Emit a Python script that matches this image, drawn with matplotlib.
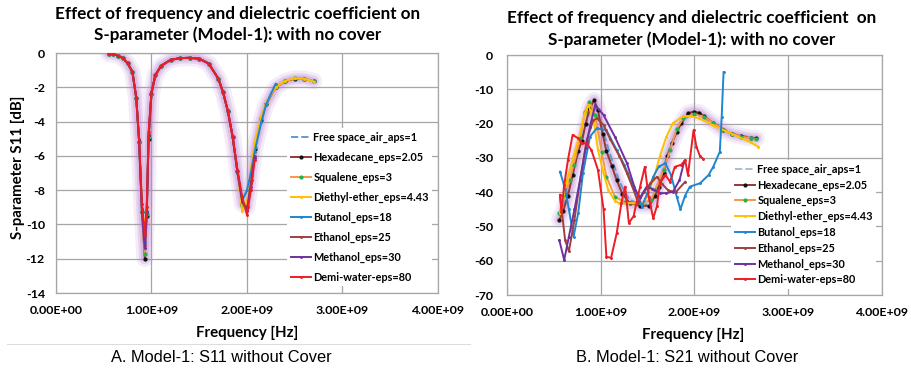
import matplotlib
matplotlib.use("Agg")
import matplotlib.pyplot as plt
from matplotlib.lines import Line2D
import numpy as np

# ---- S11 (left panel), frequency in GHz, value in dB ----
S11_FREQ = [0.55, 0.6, 0.65, 0.7, 0.75, 0.8, 0.84, 0.87, 0.9, 0.93, 0.95, 0.97,
            1.0, 1.04, 1.1, 1.2, 1.3, 1.4, 1.5, 1.6, 1.7, 1.75, 1.8, 1.85, 1.9,
            1.95, 2.0, 2.04, 2.08, 2.15, 2.2, 2.3, 2.4, 2.5, 2.6, 2.7]
S11_FREE = [-0.05, -0.07, -0.15, -0.3, -0.6, -1.1, -2.6, -5.1, -9.2, -11.3, -9.2, -4.8,
            -2.3, -1.3, -0.75, -0.4, -0.3, -0.28, -0.33, -0.62, -1.5, -2.3, -3.4, -4.9, -7.0,
            -8.6, -8.0, -7.0, -5.76, -4.0, -3.0, -1.8]
S11_HEX = [-0.05, -0.07, -0.15, -0.3, -0.6, -1.1, -2.6, -5.2, -9.3, -12.0, -9.5, -5.0,
           -2.4, -1.3, -0.75, -0.4, -0.3, -0.28, -0.33, -0.62, -1.5, -2.3, -3.4, -4.9, -6.9,
           -8.8, -9.0, -7.4, -5.6, -3.9, -3.0, -2.0, -1.65, -1.5, -1.5, -1.65]
S11_SQU = [-0.05, -0.07, -0.15, -0.3, -0.6, -1.1, -2.6, -5.2, -9.2, -11.7, -9.4, -4.9,
           -2.4, -1.3, -0.75, -0.4, -0.3, -0.28, -0.33, -0.62, -1.5, -2.3, -3.4, -4.9, -6.9,
           -8.9, -8.9, -7.2, -5.5, -3.8, -2.95, -2.0, -1.62, -1.48, -1.5, -1.65]
S11_DIE = [-0.05, -0.07, -0.15, -0.3, -0.6, -1.1, -2.6, -5.1, -8.8, -10.4, -9.0, -4.7,
           -2.3, -1.3, -0.75, -0.4, -0.3, -0.28, -0.33, -0.62, -1.5, -2.3, -3.4, -4.9, -7.0,
           -9.2, -8.7, -6.8, -5.2, -3.7, -2.9, -2.0, -1.62, -1.48, -1.5, -1.67]
S11_BUT = [-0.05, -0.07, -0.15, -0.3, -0.6, -1.1, -2.6, -5.1, -9.1, -11.0, -9.2, -4.8,
           -2.3, -1.3, -0.75, -0.4, -0.3, -0.28, -0.33, -0.62, -1.5, -2.3, -3.4, -4.9, -7.0,
           -8.6, -8.0, -7.0, -5.76, -4.0, -3.0, -1.8]
S11_ETH = [-0.05, -0.07, -0.15, -0.3, -0.6, -1.1, -2.6, -5.1, -9.1, -11.2, -9.3, -4.8,
           -2.3, -1.3, -0.75, -0.4, -0.3, -0.28, -0.33, -0.62, -1.5, -2.3, -3.4, -4.9, -6.9,
           -8.7, -9.1, -7.6, -6.0]
S11_MET = [-0.05, -0.07, -0.15, -0.3, -0.6, -1.1, -2.6, -5.1, -9.2, -11.4, -9.3, -4.8,
           -2.3, -1.3, -0.75, -0.4, -0.3, -0.28, -0.33, -0.62, -1.5, -2.3, -3.4, -4.9, -6.9,
           -8.6, -9.2, -7.8, -6.1]
S11_WAT = [-0.05, -0.07, -0.15, -0.3, -0.6, -1.1, -2.6, -5.0, -8.8, -10.6, -9.0, -4.6,
           -2.3, -1.3, -0.75, -0.4, -0.3, -0.28, -0.33, -0.62, -1.5, -2.3, -3.4, -4.9, -6.8,
           -8.4, -9.45, -8.0, -6.24]

# ---- S21 (right panel) ----
S21_FREE_F = [0.56, 0.65, 0.76, 0.84, 0.92, 1.0, 1.1, 1.2, 1.3, 1.42, 1.52, 1.62,
              1.71, 1.81, 1.9, 2.0, 2.2, 2.4, 2.66]
S21_FREE = [-47, -40, -28.5, -20, -13.5, -20, -29, -37, -42, -43.8, -43.5, -38,
            -29, -22, -18.5, -16.8, -19.8, -23, -24.3]
S21_HEX_F = [0.56, 0.6, 0.65, 0.7, 0.76, 0.8, 0.84, 0.88, 0.93, 0.97, 1.02, 1.06,
             1.12, 1.17, 1.23, 1.31, 1.42, 1.52, 1.58, 1.62, 1.67, 1.71, 1.76, 1.81,
             1.86, 1.93, 1.99, 2.05, 2.1, 2.2, 2.3, 2.4, 2.5, 2.6, 2.66]
S21_HEX = [-48, -45.5, -41, -35, -28, -25, -20, -15.5, -13.2, -16, -23, -28,
           -32.5, -36.5, -40.5, -43.2, -44, -44, -41, -38.4, -34.5, -29.6, -25.8, -22.4,
           -19.9, -17, -16.5, -16.8, -17.8, -19.8, -21.8, -23, -23.7, -24.2, -24.3]
S21_SQU_F = [0.56, 0.62, 0.67, 0.71, 0.78, 0.83, 0.88, 0.94, 1.01, 1.06, 1.15, 1.26,
             1.42, 1.54, 1.58, 1.67, 1.74, 1.81, 1.88, 1.99, 2.1, 2.2, 2.3, 2.4, 2.5,
             2.6, 2.66]
S21_SQU = [-46, -40.8, -36.4, -32, -24.3, -16.5, -13.6, -17.5, -28.2, -35.5, -41.3, -43,
           -43.3, -42.3, -39.4, -33.5, -27.7, -21.5, -18.5, -17.2, -18, -19.8, -21.8, -23,
           -23.8, -24.3, -24.5]
S21_DIE_F = [0.565, 0.64, 0.71, 0.78, 0.83, 0.87, 0.93, 0.97, 1.03, 1.08, 1.15, 1.2,
             1.45, 1.5, 1.56, 1.63, 1.7, 1.77, 1.88, 1.95, 2.05, 2.2, 2.4, 2.6, 2.68]
S21_DIE = [-46, -36.4, -29.6, -22.8, -17, -14.5, -20, -27.7, -34.5, -39.4, -42.5, -43.3,
           -43.3, -41, -36.4, -29.6, -23.8, -19.9, -17.8, -17.8, -18.5, -20.5, -23, -25.5,
           -26.7]
S21_BUT_F = [0.565, 0.62, 0.66, 0.71, 0.76, 0.81, 0.885, 0.957, 1.06, 1.17, 1.25, 1.35,
             1.44, 1.5, 1.56, 1.62, 1.69, 1.75, 1.81, 1.85, 1.9, 1.95, 2.06, 2.15, 2.2,
             2.27, 2.29, 2.31]
S21_BUT = [-34, -39, -45, -53, -46, -34.5, -23.8, -21.4, -21.9, -27.7, -32, -38.4,
           -44.2, -40, -35.5, -32.5, -31.6, -35, -41.3, -45, -41, -38.4, -37.4, -35, -32.6,
           -28.2, -18, -5]
S21_ETH_F = [0.565, 0.62, 0.66, 0.72, 0.78, 0.85, 0.92, 0.96, 1.03, 1.1, 1.2, 1.28,
             1.35, 1.4, 1.46, 1.53, 1.6, 1.65, 1.72, 1.8, 1.9]
S21_ETH = [-40.8, -54, -57.3, -48, -36.4, -24.8, -19, -18.5, -20.4, -24.5, -29.6, -34.5,
           -39.4, -43.2, -40, -37.4, -35.5, -37.5, -39.5, -40, -37]
S21_MET_F = [0.558, 0.61, 0.66, 0.72, 0.78, 0.84, 0.885, 0.94, 1.03, 1.15, 1.28, 1.37,
             1.42, 1.49, 1.55, 1.63, 1.7, 1.77, 1.84, 1.89]
S21_MET = [-54, -59.8, -53, -45, -36.4, -27, -20.9, -14.6, -17.5, -23.8, -31.6, -39.4,
           -41.5, -38.4, -39, -40.3, -40.3, -39.9, -36.5, -31.1]
S21_WAT_F = [0.565, 0.58, 0.61, 0.65, 0.7, 0.76, 0.8, 0.85, 0.9, 0.97, 1.03, 1.06,
             1.11, 1.17, 1.22, 1.26, 1.3, 1.35, 1.42, 1.47, 1.51, 1.56, 1.6, 1.63, 1.69,
             1.74, 1.79, 1.86, 1.9, 1.93, 1.99, 2.02, 2.06, 2.09]
S21_WAT = [-40.8, -45.7, -38, -30.6, -23.3, -24.3, -25.8, -25.8, -27.7, -33.5, -45, -58.8,
           -59.2, -52, -43.2, -38.4, -49, -47, -38.4, -32.6, -41.3, -47.6, -44, -37.4, -35,
           -37, -32.6, -32, -30.6, -35, -21.9, -26.7, -29.6, -30.2]

LABELS = ["Free space_air_aps=1", "Hexadecane_eps=2.05", "Squalene_eps=3",
          "Diethyl-ether_eps=4.43", "Butanol_eps=18", "Ethanol_eps=25",
          "Methanol_eps=30", "Demi-water-eps=80"]
X_TICKS = [0, 1e9, 2e9, 3e9, 4e9]
X_TICKLABELS = ["0.00E+00", "1.00E+09", "2.00E+09", "3.00E+09", "4.00E+09"]

# line colour, marker colour, marker size, linestyle
STYLES = [
    ("#5b9bd5", "#5b9bd5", 0, "--"),
    ("#953735", "#111111", 2.0, "-"),
    ("#f79646", "#22b14c", 2.0, "-"),
    ("#ffc000", "#ffc000", 1.1, "-"),
    ("#1f86d0", "#1f86d0", 1.1, "-"),
    ("#a0403d", "#a0403d", 1.1, "-"),
    ("#7030a0", "#7030a0", 1.1, "-"),
    ("#ee1c24", "#ee1c24", 1.1, "-"),
]

BOLD = "Lato"
GRID = "#a6a6a6"

fig = plt.figure(figsize=(9.12, 3.71), dpi=100)
fig.patch.set_facecolor("white")


def _style_axes(ax, yticks, ypad):
    ax.set_xlim(0, 4e9)
    ax.set_xticks(X_TICKS)
    ax.set_xticklabels(X_TICKLABELS)
    ax.set_yticks(yticks)
    ax.set_ylim(min(yticks), max(yticks))
    ax.set_yticklabels([f"{t:g}" for t in yticks])
    ax.grid(True, color=GRID, linewidth=0.9)
    ax.set_axisbelow(True)
    for sp in ax.spines.values():
        sp.set_color(GRID)
        sp.set_linewidth(0.9)
    ax.tick_params(length=0, labelsize=8.9)
    ax.tick_params(axis="x", pad=9)
    ax.tick_params(axis="y", pad=ypad)
    for lab in ax.get_xticklabels() + ax.get_yticklabels():
        lab.set_fontfamily(BOLD)
        lab.set_fontweight("bold")


def _draw(ax, series, glow_idx):
    gf, gv = series[glow_idx]
    gf = np.array(gf) * 1e9
    # soft purple glow behind the hexadecane curve
    for lw, a in [(12, 0.15), (8, 0.22), (5, 0.3)]:
        ax.plot(gf, gv, color="#b982d0", lw=lw, alpha=a, solid_capstyle="round",
                solid_joinstyle="round", zorder=1)
    for i, (f, v) in enumerate(series):
        lc, mc, ms, ls = STYLES[i]
        ax.plot(np.array(f) * 1e9, v, color=lc, lw=1.4, ls=ls,
                marker="o" if ms else None, ms=ms, mfc=mc, mec=mc,
                label=LABELS[i], zorder=2 + i)


# ---------- left panel ----------
ax1 = fig.add_axes([56 / 912, 1 - 293 / 371, 382 / 912, 240 / 371])
left_series = [
    (S11_FREQ[:len(S11_FREE)], S11_FREE),
    (S11_FREQ[:len(S11_HEX)], S11_HEX),
    (S11_FREQ[:len(S11_SQU)], S11_SQU),
    (S11_FREQ[:len(S11_DIE)], S11_DIE),
    (S11_FREQ[:len(S11_BUT)], S11_BUT),
    (S11_FREQ[:len(S11_ETH)], S11_ETH),
    (S11_FREQ[:len(S11_MET)], S11_MET),
    (S11_FREQ[:len(S11_WAT)], S11_WAT),
]
_draw(ax1, left_series, 1)
_style_axes(ax1, [0, -2, -4, -6, -8, -10, -12, -14], 8)
leg1 = ax1.legend(loc="upper left", bbox_to_anchor=(282 / 912, 1 - 123 / 371),
                  bbox_transform=fig.transFigure, frameon=True, fancybox=False,
                  edgecolor="none", facecolor="white", framealpha=1,
                  handlelength=1.9, handletextpad=0.2, labelspacing=0.82,
                  borderpad=0.3, prop={"family": BOLD, "weight": "bold", "size": 7.8})

fig.text(238 / 912, 1 - 14 / 371, "Effect of frequency and dielectric coefficient on",
         ha="center", va="center", family=BOLD, weight="bold", size=12.3)
fig.text(238 / 912, 1 - 35 / 371, "S-parameter (Model-1): with no cover",
         ha="center", va="center", family=BOLD, weight="bold", size=12.3)
fig.text(18 / 912, 1 - 167 / 371, "S-parameter S11 [dB]", rotation=90,
         ha="center", va="center", family=BOLD, weight="bold", size=10.8)
fig.text(247 / 912, 1 - 333 / 371, "Frequency [Hz]", ha="center", va="center",
         family=BOLD, weight="bold", size=10.8)

# ---------- right panel ----------
ax2 = fig.add_axes([507 / 912, 1 - 295 / 371, 375 / 912, 240 / 371])
right_series = [
    (S21_FREE_F, S21_FREE), (S21_HEX_F, S21_HEX), (S21_SQU_F, S21_SQU),
    (S21_DIE_F, S21_DIE), (S21_BUT_F, S21_BUT), (S21_ETH_F, S21_ETH),
    (S21_MET_F, S21_MET), (S21_WAT_F, S21_WAT),
]
_draw(ax2, right_series, 1)
_style_axes(ax2, [0, -10, -20, -30, -40, -50, -60, -70], 10)
leg2 = ax2.legend(loc="upper left", bbox_to_anchor=(726 / 912, 1 - 155 / 371),
                  bbox_transform=fig.transFigure, frameon=True, fancybox=False,
                  edgecolor="none", facecolor="white", framealpha=1,
                  handlelength=1.9, handletextpad=0.2, labelspacing=0.43,
                  borderpad=0.3, prop={"family": BOLD, "weight": "bold", "size": 7.8})
leg2.get_lines()[0].set_color("#a9bcd6")

fig.text(692 / 912, 1 - 18 / 371, "Effect of frequency and dielectric coefficient  on",
         ha="center", va="center", family=BOLD, weight="bold", size=12.3)
fig.text(692 / 912, 1 - 40 / 371, "S-parameter (Model-1): with no cover",
         ha="center", va="center", family=BOLD, weight="bold", size=12.3)
fig.text(693 / 912, 1 - 335 / 371, "Frequency [Hz]", ha="center", va="center",
         family=BOLD, weight="bold", size=10.8)

# captions and separator
fig.add_artist(Line2D([7 / 912, 470 / 912], [1 - 344 / 371, 1 - 344 / 371],
                      color="#dddddd", lw=0.8))
fig.text(221 / 912, 1 - 357 / 371, "A. Model-1: S11 without Cover", ha="center",
         va="center", family="Liberation Sans", size=11.8)
fig.text(687 / 912, 1 - 357 / 371, "B. Model-1: S21 without Cover", ha="center",
         va="center", family="Liberation Sans", size=11.8)

fig.savefig("out.png", dpi=100, facecolor="white")
